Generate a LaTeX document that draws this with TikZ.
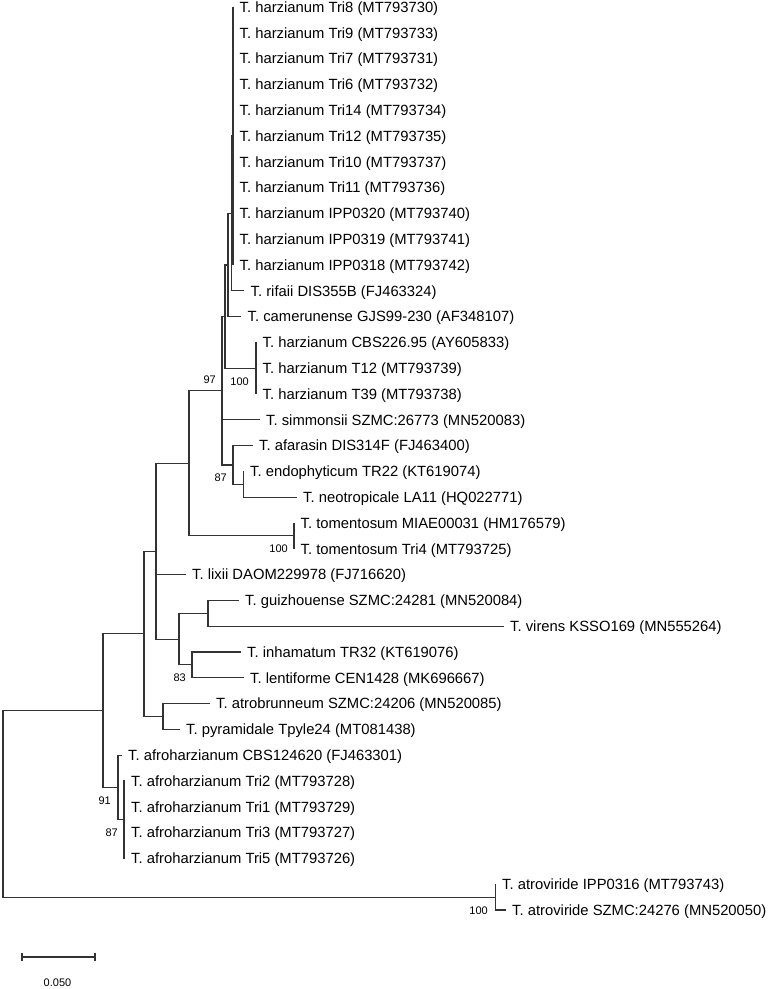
\documentclass[tikz,border=0pt]{standalone}
\usepackage{fontspec}
\usetikzlibrary{positioning}
\newfontfamily\treefont{Liberation Sans}

\tikzset{
  taxon/.style={anchor=west, inner xsep=6.5pt, inner ysep=0pt, text height=10.6pt, text depth=0pt,
    font=\treefont\fontsize{14.8}{16}\selectfont},
  boot/.style={inner sep=0pt, text height=7.9pt, text depth=0pt, font=\treefont\fontsize{11}{12}\selectfont},
  branch/.style={line width=1.1pt, black!80},
}

\begin{document}
\begin{tikzpicture}[x=1pt, y=-1pt]
  \useasboundingbox (0,0) rectangle (768,989);

  % taxa
  \node[taxon] (tri8)  at (233,7)     {T. harzianum Tri8 (MT793730)};
  \node[taxon] (tri9)  at (233,32.8)  {T. harzianum Tri9 (MT793733)};
  \node[taxon] (tri7)  at (233,58.6)  {T. harzianum Tri7 (MT793731)};
  \node[taxon] (tri6)  at (233,84.4)  {T. harzianum Tri6 (MT793732)};
  \node[taxon] (tri14) at (233,110.2) {T. harzianum Tri14 (MT793734)};
  \node[taxon] (tri12) at (233,136)   {T. harzianum Tri12 (MT793735)};
  \node[taxon] (tri10) at (233,161.8) {T. harzianum Tri10 (MT793737)};
  \node[taxon] (tri11) at (233,187.6) {T. harzianum Tri11 (MT793736)};
  \node[taxon] (ipp20) at (233,213.4) {T. harzianum IPP0320 (MT793740)};
  \node[taxon] (ipp19) at (233,239.2) {T. harzianum IPP0319 (MT793741)};
  \node[taxon] (ipp18) at (233,265)   {T. harzianum IPP0318 (MT793742)};
  \node[taxon] (rifaii) at (244,290.8) {T. rifaii DIS355B (FJ463324)};
  \node[taxon] (camer)  at (241,316.6) {T. camerunense GJS99-230 (AF348107)};
  \node[taxon] (cbs226) at (256,342.4) {T. harzianum CBS226.95 (AY605833)};
  \node[taxon] (t12)    at (256,368.2) {T. harzianum T12 (MT793739)};
  \node[taxon] (t39)    at (256,394)   {T. harzianum T39 (MT793738)};
  \node[taxon] (simm)   at (259.5,419.8) {T. simmonsii SZMC:26773 (MN520083)};
  \node[taxon] (afar)   at (252.5,445.6) {T. afarasin DIS314F (FJ463400)};
  \node[taxon] (endo)   at (243.5,471.4) {T. endophyticum TR22 (KT619074)};
  \node[taxon] (neotr)  at (296.5,497.2) {T. neotropicale LA11 (HQ022771)};
  \node[taxon] (tomM)   at (294,523)     {T. tomentosum MIAE00031 (HM176579)};
  \node[taxon] (tomT)   at (294,548.8)   {T. tomentosum Tri4 (MT793725)};
  \node[taxon] (lixii)  at (185.5,574.6) {T. lixii DAOM229978 (FJ716620)};
  \node[taxon] (guiz)   at (238.5,600.4) {T. guizhouense SZMC:24281 (MN520084)};
  \node[taxon] (virens) at (503.5,626.2) {T. virens KSSO169 (MN555264)};
  \node[taxon] (inham)  at (240.5,652)   {T. inhamatum TR32 (KT619076)};
  \node[taxon] (lenti)  at (243.5,677.8) {T. lentiforme CEN1428 (MK696667)};
  \node[taxon] (atrob)  at (209.5,703.6) {T. atrobrunneum SZMC:24206 (MN520085)};
  \node[taxon] (pyram)  at (179.5,729.4) {T. pyramidale Tpyle24 (MT081438)};
  \node[taxon] (afcbs)  at (121.5,755.2) {T. afroharzianum CBS124620 (FJ463301)};
  \node[taxon] (af2)    at (124.5,781)   {T. afroharzianum Tri2 (MT793728)};
  \node[taxon] (af1)    at (124.5,806.8) {T. afroharzianum Tri1 (MT793729)};
  \node[taxon] (af3)    at (124.5,832.6) {T. afroharzianum Tri3 (MT793727)};
  \node[taxon] (af5)    at (124.5,858.4) {T. afroharzianum Tri5 (MT793726)};
  \node[taxon] (atroI)  at (495.5,884.2) {T. atroviride IPP0316 (MT793743)};
  \node[taxon] (atroS)  at (505.5,910)   {T. atroviride SZMC:24276 (MN520050)};

  % inner nodes
  \coordinate (nHz)      at (233,136);
  \coordinate (nRif)     at (231.5,213.4);
  \coordinate (nCam)     at (228,265);
  \coordinate (nCbs)     at (256,368.2);
  \coordinate (nTop)     at (225,316.6);
  \coordinate (nEndo)    at (243.5,484.3);
  \coordinate (nAfar)    at (233,465);
  \coordinate (nHarz)    at (222,390.8);
  \coordinate (nTom)     at (294,535.9);
  \coordinate (nUp)      at (189,463.3);
  \coordinate (nGuiz)    at (208,613.3);
  \coordinate (nInh)     at (192,664.9);
  \coordinate (nVir)     at (179,639.1);
  \coordinate (nMid)     at (156,551.2);
  \coordinate (nAtb)     at (163,716.5);
  \coordinate (nIn)      at (144,633.9);
  \coordinate (nAfro4)   at (124,819.7);
  \coordinate (nAfro)    at (118,787.5);
  \coordinate (nIngroup) at (103,710.7);
  \coordinate (nAtro)    at (495.5,897.1);
  \coordinate (nRoot)    at (3,803.9);

  % branches
  \draw[branch] (nHz) |- (tri8.west)  (nHz) |- (tri9.west)  (nHz) |- (tri7.west)
                (nHz) |- (tri6.west)  (nHz) |- (tri14.west) (nHz) |- (tri12.west)
                (nHz) |- (tri10.west) (nHz) |- (tri11.west) (nHz) |- (ipp20.west)
                (nHz) |- (ipp19.west) (nHz) |- (ipp18.west);
  \draw[branch] (nRif) |- (nHz) (nRif) |- (rifaii.west);
  \draw[branch] (nCam) |- (nRif) (nCam) |- (camer.west);
  \draw[branch] (nCbs) |- (cbs226.west) (nCbs) |- (t12.west) (nCbs) |- (t39.west);
  \draw[branch] (nTop) |- (nCam) (nTop) |- (nCbs);
  \draw[branch] (nEndo) |- (endo.west) (nEndo) |- (neotr.west);
  \draw[branch] (nAfar) |- (afar.west) (nAfar) |- (nEndo);
  \draw[branch] (nHarz) |- (nTop) (nHarz) |- (simm.west) (nHarz) |- (nAfar);
  \draw[branch] (nTom) |- (tomM.west) (nTom) |- (tomT.west);
  \draw[branch] (nUp) |- (nHarz) (nUp) |- (nTom);
  \draw[branch] (nGuiz) |- (guiz.west) (nGuiz) |- (virens.west);
  \draw[branch] (nInh) |- (inham.west) (nInh) |- (lenti.west);
  \draw[branch] (nVir) |- (nGuiz) (nVir) |- (nInh);
  \draw[branch] (nMid) |- (nUp) (nMid) |- (lixii.west) (nMid) |- (nVir);
  \draw[branch] (nAtb) |- (atrob.west) (nAtb) |- (pyram.west);
  \draw[branch] (nIn) |- (nMid) (nIn) |- (nAtb);
  \draw[branch] (nAfro4) |- (af2.west) (nAfro4) |- (af1.west) (nAfro4) |- (af3.west) (nAfro4) |- (af5.west);
  \draw[branch] (nAfro) |- (afcbs.west) (nAfro) |- (nAfro4);
  \draw[branch] (nIngroup) |- (nIn) (nIngroup) |- (nAfro);
  \draw[branch] (nAtro) |- (atroI.west) (nAtro) |- (atroS.west);
  \draw[branch] (nRoot) |- (nIngroup) (nRoot) |- (nAtro);

  % bootstrap values
  \node[boot, above left=7pt and 6pt of nHarz] (bsHarz) {97};
  \node[boot, below left=8.8pt and 7pt of nCbs] (bsCbs) {100};
  \node[boot, below left=8.8pt and 6pt of nAfar] (bsAfar) {87};
  \node[boot, below left=8.8pt and 6pt of nTom] (bsTom) {100};
  \node[boot, below left=8.8pt and 6pt of nInh] (bsInh) {83};
  \node[boot, below left=8.8pt and 7pt of nAfro] (bsAfro) {91};
  \node[boot, below left=8.8pt and 6pt of nAfro4] (bsAfro4) {87};
  \node[boot, below left=9.5pt and 7.5pt of nAtro] (bsAtro) {100};

  % scale bar
  \coordinate (sbL) at (22,957);
  \coordinate (sbR) at (95,957);
  \draw[branch] (sbL) -- (sbR);
  \draw[branch] ([yshift=4pt]sbL) -- ([yshift=-4pt]sbL);
  \draw[branch] ([yshift=4pt]sbR) -- ([yshift=-4pt]sbR);
  \node[boot] (sbLabel) at (57.5,983) {0.050};

\end{tikzpicture}
\end{document}
